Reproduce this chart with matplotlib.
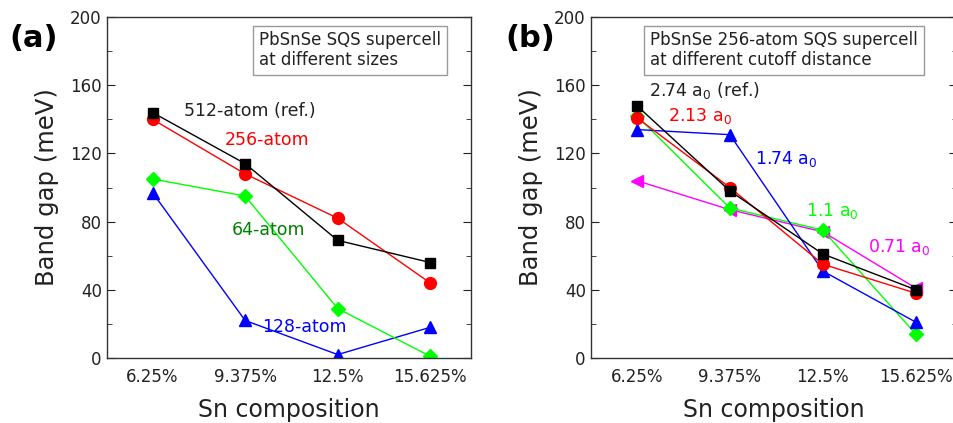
import matplotlib
matplotlib.use("Agg")
import matplotlib.pyplot as plt

# Sn composition (%)
sn = [6.25, 9.375, 12.5, 15.625]
sn_labels = ["6.25%", "9.375%", "12.5%", "15.625%"]

# (a) band gap (meV) vs supercell size
gap_512 = [144, 114, 69, 56]
gap_256 = [140, 108, 82, 44]
gap_64 = [105, 95, 29, 1]
gap_128 = [97, 22, 2, 18]

# (b) 256-atom supercell, band gap (meV) vs cutoff distance
gap_274 = [148, 98, 61, 40]
gap_213 = [141, 100, 55, 38]
gap_174 = [134, 131, 51, 21]
gap_110 = [142, 88, 75, 14]
gap_071 = [104, 87, 74, 41]

plt.rcParams["font.family"] = "DejaVu Sans"
TXT = "#222222"

fig = plt.figure(figsize=(9.54, 4.23), dpi=100)
ax1 = fig.add_axes([0.1118, 0.1537, 0.3819, 0.806])
ax2 = fig.add_axes([0.6192, 0.1537, 0.3837, 0.806])

lw = 1.0
# panel (a)
ax1.plot(sn, gap_128, "-^", color="#0000ff", lw=lw, ms=8.5)
ax1.plot(sn, gap_64, "-D", color="#00ff00", lw=lw, ms=7)
ax1.plot(sn, gap_256, "-o", color="#ff0000", lw=lw, ms=8.5)
ax1.plot(sn, gap_512, "-s", color="black", lw=lw, ms=7.5)

ax1.text(9.53, 145, "512-atom (ref.)", color=TXT, fontsize=12.5, ha="center", va="center")
ax1.text(10.13, 128, "256-atom", color="#ff0000", fontsize=12.5, ha="center", va="center")
ax1.text(10.17, 75, "64-atom", color="#008000", fontsize=12.5, ha="center", va="center")
ax1.text(11.36, 18, "128-atom", color="#0000ff", fontsize=12.5, ha="center", va="center")
ax1.text(0.418, 0.958, "PbSnSe SQS supercell\nat different sizes", transform=ax1.transAxes,
         fontsize=12, color=TXT, ha="left", va="top", linespacing=1.15,
         bbox=dict(boxstyle="square,pad=0.35", fc="white", ec="#999999", lw=1))

# panel (b)
ax2.plot(sn, gap_071, "-<", color="#ff00ff", lw=lw, ms=8.5)
ax2.plot(sn, gap_110, "-D", color="#00ff00", lw=lw, ms=7)
ax2.plot(sn, gap_174, "-^", color="#0000ff", lw=lw, ms=8.5)
ax2.plot(sn, gap_213, "-o", color="#ff0000", lw=lw, ms=8.5)
ax2.plot(sn, gap_274, "-s", color="black", lw=lw, ms=7.5)

ax2.text(8.51, 157, r"2.74 a$_0$ (ref.)", color=TXT, fontsize=12.5, ha="center", va="center")
ax2.text(8.38, 142, r"2.13 a$_0$", color="#ff0000", fontsize=12.5, ha="center", va="center")
ax2.text(11.27, 117, r"1.74 a$_0$", color="#0000ff", fontsize=12.5, ha="center", va="center")
ax2.text(12.83, 86, r"1.1 a$_0$", color="#00ff00", fontsize=12.5, ha="center", va="center")
ax2.text(15.06, 65, r"0.71 a$_0$", color="#ff00ff", fontsize=12.5, ha="center", va="center")
ax2.text(0.162, 0.958, "PbSnSe 256-atom SQS supercell\nat different cutoff distance",
         transform=ax2.transAxes, fontsize=12, color=TXT, ha="left", va="top", linespacing=1.15,
         bbox=dict(boxstyle="square,pad=0.35", fc="white", ec="#999999", lw=1))

for ax in (ax1, ax2):
    ax.set_xlim(4.7, 17.0)
    ax.set_ylim(0, 200)
    ax.set_xticks(sn)
    ax.set_xticklabels(sn_labels)
    ax.set_yticks(range(0, 201, 40))
    ax.set_yticks(range(20, 200, 40), minor=True)
    ax.tick_params(axis="x", length=0, pad=7, labelsize=12, colors=TXT)
    ax.tick_params(axis="y", which="both", direction="in", left=True, right=True,
                   labelsize=12, colors=TXT)
    ax.tick_params(axis="y", which="major", length=6)
    ax.tick_params(axis="y", which="minor", length=3.5)
    for sp in ax.spines.values():
        sp.set_color("#333333")
        sp.set_linewidth(1.0)
    ax.set_xlabel("Sn composition", fontsize=17, color=TXT, labelpad=8.5)
    ax.set_ylabel("Band gap (meV)", fontsize=17.5, color=TXT, labelpad=8)

fig.text(0.035, 0.91, "(a)", fontsize=22, fontweight="bold", color="black", ha="center", va="center")
fig.text(0.556, 0.91, "(b)", fontsize=22, fontweight="bold", color="black", ha="center", va="center")

fig.savefig("out.png", dpi=100)
